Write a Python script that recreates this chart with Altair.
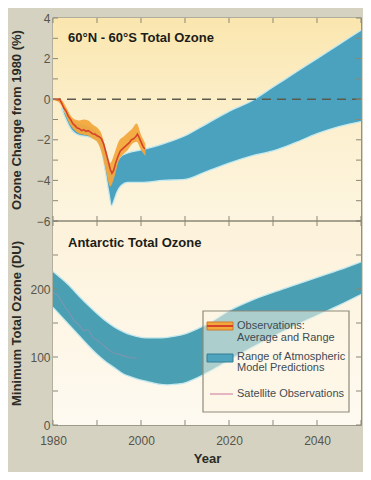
import altair as alt
import pandas as pd

# ---------------- data ----------------
# Top panel: 60N-60S total ozone change (%)
obs_years = [1980, 1980.5, 1981, 1981.5, 1982, 1982.5, 1983, 1983.5, 1984, 1984.5,
             1985, 1985.5, 1986, 1986.5, 1987, 1987.5, 1988, 1988.5, 1989, 1989.5,
             1990, 1990.5, 1991, 1991.5, 1992, 1992.5, 1993, 1993.4, 1993.8, 1994.3,
             1994.8, 1995.3, 1995.8, 1996.3, 1996.8, 1997.3, 1997.8, 1998.3, 1998.8,
             1999.2, 1999.6, 2000, 2000.5, 2000.9]
obs_avg = [0.0, 0.0, -0.02, 0.0, -0.2, -0.45, -0.6, -0.85, -1.0, -1.2,
           -1.3, -1.42, -1.45, -1.55, -1.5, -1.58, -1.55, -1.62, -1.7, -1.72,
           -1.8, -1.85, -1.95, -2.2, -2.6, -3.0, -3.45, -3.65, -3.5, -3.1,
           -2.8, -2.55, -2.45, -2.35, -2.25, -2.15, -2.0, -1.95, -1.85,
           -1.72, -1.9, -2.1, -2.35, -2.45]

range_years = [1980, 1981, 1982, 1983, 1984, 1985, 1986, 1987, 1988, 1989, 1990,
               1991, 1992, 1993, 1994, 1995, 1996, 1997, 1998, 1999, 2000, 2001]
range_lo = [-0.05, -0.1, -0.35, -0.85, -1.3, -1.55, -1.7, -1.75, -1.8, -1.95, -2.1,
            -2.6, -3.5, -4.3, -3.8, -3.0, -2.7, -2.5, -2.2, -2.1, -2.5, -2.8]
range_hi = [0.05, 0.05, -0.05, -0.4, -0.8, -1.0, -1.05, -1.0, -1.05, -1.25, -1.4,
            -1.7, -2.45, -3.15, -2.65, -2.05, -1.85, -1.65, -1.45, -1.2, -1.75, -2.2]

model_years = [1982, 1984, 1986, 1988, 1990, 1991, 1992, 1992.7, 1993.3, 1994,
               1994.5, 1995.5, 1997, 2000, 2005, 2010, 2015, 2020, 2025, 2030,
               2035, 2040, 2045, 2050]
model_lo = [-0.5, -1.45, -1.78, -1.85, -2.05, -2.5, -3.7, -4.6, -5.25, -4.9,
            -4.6, -4.25, -4.1, -4.1, -4.0, -3.95, -3.55, -3.15, -2.8, -2.55,
            -2.15, -1.7, -1.35, -1.1]
model_hi = [-0.4, -1.0, -1.2, -1.3, -1.6, -1.9, -2.5, -3.1, -3.5, -3.3,
            -3.1, -2.8, -2.65, -2.5, -2.2, -1.8, -1.2, -0.6, -0.1, 0.6,
            1.3, 2.0, 2.7, 3.4]

# Bottom panel: Antarctic minimum total ozone (DU)
ant_years = [1980, 1982, 1984, 1986, 1988, 1990, 1992, 1994, 1996, 1998, 2000,
             2002, 2004, 2006, 2008, 2010, 2013, 2016, 2020, 2025, 2030, 2035,
             2040, 2045, 2050]
ant_hi = [226, 215, 203, 189, 176, 164, 153, 144, 137, 132, 129,
          128, 128, 129, 131, 134, 142, 152, 168, 183, 195, 206,
          217, 228, 240]
ant_lo = [173, 159, 145, 131, 117, 104, 93, 84, 75, 70, 66,
          63, 60, 59, 60, 62, 70, 80, 95, 113, 130, 146,
          161, 176, 192]

sat_years = [1980, 1981, 1982, 1983, 1984, 1985, 1986, 1987, 1988, 1989, 1990,
             1991, 1992, 1993, 1994, 1995, 1996, 1997, 1998, 1999]
sat_min = [195, 191, 181, 171, 162, 152, 147, 139, 140, 129, 125,
           120, 114, 109, 106, 104, 102, 100, 99, 98]

x_tick_values = [1980, 1990, 2000, 2010, 2020, 2030, 2040, 2050]
x_label_values = [1980, 2000, 2020, 2040]
y1_tick_values = [-6, -5, -4, -3, -2, -1, 0, 1, 2, 3, 4]
y1_label_values = [-6, -4, -2, 0, 2, 4]
y2_tick_values = [0, 50, 100, 150, 200, 250, 300]
y2_label_values = [0, 100, 200]

panel_titles = ["60°N - 60°S Total Ozone", "Antarctic Total Ozone"]
y_titles = ["Ozone Change from 1980 (%)", "Minimum Total Ozone (DU)"]
legend_labels = ["Observations:", "Average and Range", "Range of Atmospheric",
                 "Model Predictions", "Satellite Observations"]

# ---------------- layout / styling ----------------
W, H1, H2 = 308, 203, 204
H = H1 + H2
FONT = "Liberation Sans"
TICK = "#8a8776"
BLUE = "#4ba2bf"
BLUE2 = "#4b9fb3"
EDGE = "#c4e9ee"
ORANGE = "#f3a83c"
RED = "#d6432a"

df_obs = pd.DataFrame({"year": obs_years, "avg": obs_avg})
df_rng = pd.DataFrame({"year": range_years, "lo": range_lo, "hi": range_hi})
df_mod = pd.DataFrame({"year": model_years, "lo": model_lo, "hi": model_hi})
df_ant = pd.DataFrame({"year": ant_years, "lo": ant_lo, "hi": ant_hi})
df_sat = pd.DataFrame({"year": sat_years, "v": sat_min})
df_xt = pd.DataFrame({"t": x_tick_values})
df_yt1 = pd.DataFrame({"t": y1_tick_values})
df_yt2 = pd.DataFrame({"t": y2_tick_values})
one = pd.DataFrame({"a": [0]})

# two stacked panels share one plot area: each y scale covers only its own band
xs = alt.Scale(domain=[1980, 2050], nice=False, zero=False)
ys1 = alt.Scale(domain=[4 - 10 * H / H1, 4], nice=False, zero=False)   # -6..4 in top band
ys2 = alt.Scale(domain=[0, 300 * H / H2], nice=False, zero=False)      # 0..300 in bottom band


def yaxis(values, title, title_y):
    return alt.Axis(orient="left", values=values, ticks=False, domain=False, grid=False,
                    labelFont=FONT, labelFontSize=12, labelColor="#55554a", labelPadding=3,
                    title=title, titleFont=FONT, titleFontSize=13, titleFontWeight="bold",
                    titleColor="#2b2b26", titleX=-37, titleY=title_y,
                    titleAngle=270, titleBaseline="middle", titleAlign="center")


def grad(stops):
    return alt.Gradient(gradient="linear",
                        stops=[alt.GradientStop(color=c, offset=o) for o, c in stops],
                        x1=0, x2=0, y1=0, y2=1)


bg1 = alt.Chart(one).mark_rect(fill=grad([(0, "#fae6ae"), (0.55, "#fcf0d0"), (1, "#fdf5e0")])).encode(
    x=alt.X(datum=1980, type="quantitative", scale=xs, axis=None),
    x2=alt.X2(datum=2050),
    y=alt.Y(datum=4, type="quantitative", scale=ys1,
            axis=yaxis(y1_label_values, y_titles[0], H1 / 2)),
    y2=alt.Y2(datum=-6),
)
bg2 = alt.Chart(one).mark_rect(fill=grad([(0, "#fdf2da"), (1, "#fefaf1")])).encode(
    x=alt.X(datum=1980, type="quantitative", scale=xs,
            axis=alt.Axis(orient="bottom", values=x_label_values, format="d", ticks=False,
                          domain=False, grid=False, labelFlush=False, labelFont=FONT,
                          labelFontSize=12, labelColor="#55554a", labelPadding=10,
                          title="Year", titleFont=FONT, titleFontSize=13,
                          titleFontWeight="bold", titleColor="#2b2b26", titlePadding=6)),
    x2=alt.X2(datum=2050),
    y=alt.Y(datum=300, type="quantitative", scale=ys2,
            axis=yaxis(y2_label_values, y_titles[1], H1 + H2 / 2)),
    y2=alt.Y2(datum=0),
)


def xq(field):
    return alt.X(field, type="quantitative", scale=xs, axis=None)


def yq(field, scale):
    return alt.Y(field, type="quantitative", scale=scale, axis=None)


# ---- top panel marks ----
band1 = alt.Chart(df_mod).mark_area(color=BLUE, interpolate="monotone").encode(
    x=xq("year"), y=yq("lo", ys1), y2="hi")
edge1_hi = alt.Chart(df_mod).mark_line(color=EDGE, strokeWidth=1.3, interpolate="monotone").encode(
    x=xq("year"), y=yq("hi", ys1))
edge1_lo = alt.Chart(df_mod).mark_line(color=EDGE, strokeWidth=1.3, interpolate="monotone").encode(
    x=xq("year"), y=yq("lo", ys1))
zero = alt.Chart(one).mark_rule(color="#5b5a4c", strokeWidth=1.4, strokeDash=[9, 6]).encode(
    y=alt.Y(datum=0, type="quantitative", scale=ys1, axis=None))
rng = alt.Chart(df_rng).mark_area(color=ORANGE, interpolate="monotone", opacity=0.95).encode(
    x=xq("year"), y=yq("lo", ys1), y2="hi")
avg = alt.Chart(df_obs).mark_line(color=RED, strokeWidth=1.6).encode(
    x=xq("year"), y=yq("avg", ys1))

# ---- bottom panel marks ----
band2 = alt.Chart(df_ant).mark_area(color=BLUE2, interpolate="monotone").encode(
    x=xq("year"), y=yq("lo", ys2), y2="hi")
edge2_hi = alt.Chart(df_ant).mark_line(color=EDGE, strokeWidth=1.3, interpolate="monotone").encode(
    x=xq("year"), y=yq("hi", ys2))
edge2_lo = alt.Chart(df_ant).mark_line(color=EDGE, strokeWidth=1.3, interpolate="monotone").encode(
    x=xq("year"), y=yq("lo", ys2))
sat = alt.Chart(df_sat).mark_line(color="#b889b0", strokeWidth=1.1, opacity=0.45,
                                  interpolate="monotone").encode(
    x=xq("year"), y=yq("v", ys2))

# ---- frame: panel separator and inward ticks ----
sep = alt.Chart(one).mark_rule(color=TICK, strokeWidth=1.3).encode(
    y=alt.Y(datum=-6, type="quantitative", scale=ys1, axis=None))
tick = dict(color=TICK, strokeWidth=1)
ticks = [
    alt.Chart(df_xt).mark_rule(**tick).encode(x=xq("t"), y=alt.value(0), y2=alt.value(5)),
    alt.Chart(df_xt).mark_rule(**tick).encode(x=xq("t"), y=alt.value(H1 - 5), y2=alt.value(H1 + 5)),
    alt.Chart(df_xt).mark_rule(**tick).encode(x=xq("t"), y=alt.value(H - 5), y2=alt.value(H)),
    alt.Chart(df_yt1).mark_rule(**tick).encode(y=yq("t", ys1), x=alt.value(0), x2=alt.value(5)),
    alt.Chart(df_yt1).mark_rule(**tick).encode(y=yq("t", ys1), x=alt.value(W - 5), x2=alt.value(W)),
    alt.Chart(df_yt2).mark_rule(**tick).encode(y=yq("t", ys2), x=alt.value(0), x2=alt.value(5)),
    alt.Chart(df_yt2).mark_rule(**tick).encode(y=yq("t", ys2), x=alt.value(W - 5), x2=alt.value(W)),
]

# ---- panel titles ----
ttl = dict(align="left", baseline="middle", font=FONT, fontSize=13, fontWeight="bold",
           color="#1c1c18")
title1 = alt.Chart(one).mark_text(**ttl).encode(
    x=alt.value(15), y=alt.value(20), text=alt.value(panel_titles[0]))
title2 = alt.Chart(one).mark_text(**ttl).encode(
    x=alt.value(15), y=alt.value(H1 + 22), text=alt.value(panel_titles[1]))

# ---- legend box drawn inside the lower panel ----
L0 = H1
leg_box = alt.Chart(one).mark_rect(fill="#fdf6e4", fillOpacity=0.55, stroke="#8d8a7a",
                                   strokeWidth=1.2).encode(
    x=alt.value(150), x2=alt.value(296), y=alt.value(L0 + 90), y2=alt.value(L0 + 191))
sw_orange = alt.Chart(one).mark_rect(fill=ORANGE, stroke="#d07a2a", strokeWidth=1).encode(
    x=alt.value(154), x2=alt.value(180), y=alt.value(L0 + 101), y2=alt.value(L0 + 109))
sw_red = alt.Chart(one).mark_rule(color=RED, strokeWidth=2).encode(
    x=alt.value(154), x2=alt.value(180), y=alt.value(L0 + 105))
sw_blue = alt.Chart(one).mark_rect(fill="#4ea3bd", stroke="#357f96", strokeWidth=1).encode(
    x=alt.value(154), x2=alt.value(180), y=alt.value(L0 + 133), y2=alt.value(L0 + 141))
sw_pink = alt.Chart(one).mark_rule(color="#dd9fb6", strokeWidth=1.5).encode(
    x=alt.value(157), x2=alt.value(180), y=alt.value(L0 + 173))
leg_y = [105, 117, 136, 147, 173]
leg_texts = [
    alt.Chart(one).mark_text(align="left", baseline="middle", font=FONT, fontSize=11,
                             color="#3f4b52").encode(
        x=alt.value(184), y=alt.value(L0 + yy), text=alt.value(t))
    for t, yy in zip(legend_labels, leg_y)
]

chart = alt.layer(
    bg1, bg2,
    band1, edge1_hi, edge1_lo, zero, rng, avg,
    band2, edge2_hi, edge2_lo, sat,
    sep, *ticks, title1, title2,
    leg_box, sw_orange, sw_red, sw_blue, sw_pink, *leg_texts,
).resolve_scale(y="independent").resolve_axis(x="independent", y="independent").properties(
    width=W, height=H,
    autosize=alt.AutoSizeParams(type="none"),
    padding={"left": 45, "top": 10, "right": 2, "bottom": 47},
    background="#d5d2c1",
).configure_view(stroke=TICK, strokeWidth=1.3)

chart.save("out.html", embed_options={"renderer": "svg", "actions": False})
